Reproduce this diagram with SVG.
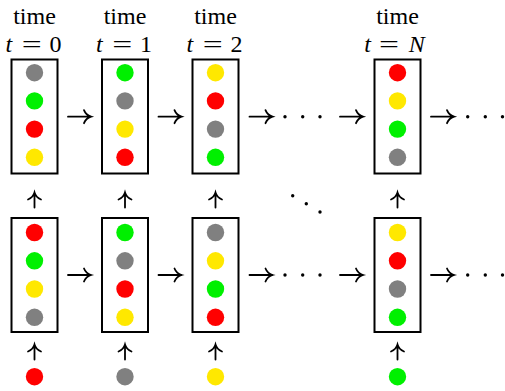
<svg xmlns="http://www.w3.org/2000/svg" width="505" height="391" viewBox="0 0 505 391">
<defs>
<style>
.box{fill:none;stroke:#000;stroke-width:2}
.g{fill:#808080}.gr{fill:#00f000}.r{fill:#ff0000}.y{fill:#ffe800}
.arr{fill:none;stroke:#000;stroke-width:1.8;stroke-linecap:round}
.dot{fill:#000}
</style>
<path id="ra" class="arr" d="M0,0 H23 M16,-6.5 Q18,-1.5 23,0 Q18,1.5 16,6.5"/>
<path id="ua" class="arr" d="M0,0 V-15 M-6.5,-8 Q-1.5,-10 0,-15 Q1.5,-10 6.5,-8"/>
</defs>
<rect width="505" height="391" fill="#fff"/>

<g id="labels" font-family="'Liberation Serif', 'Times New Roman', serif" font-size="24" fill="#000" text-anchor="middle">
<text x="34.5" y="24">time</text>
<text x="8.8" y="52" font-style="italic">t</text><text x="21.7" y="52" text-anchor="start" textLength="20" lengthAdjust="spacingAndGlyphs">=</text><text x="55.5" y="52">0</text>
<text x="125" y="24">time</text>
<text x="99.3" y="52" font-style="italic">t</text><text x="112.2" y="52" text-anchor="start" textLength="20" lengthAdjust="spacingAndGlyphs">=</text><text x="146" y="52">1</text>
<text x="215.5" y="24">time</text>
<text x="189.8" y="52" font-style="italic">t</text><text x="202.7" y="52" text-anchor="start" textLength="20" lengthAdjust="spacingAndGlyphs">=</text><text x="236.5" y="52">2</text>
<text x="397.5" y="24">time</text>
<text x="367.5" y="52" font-style="italic">t</text><text x="379" y="52" text-anchor="start" textLength="20" lengthAdjust="spacingAndGlyphs">=</text><text x="416.7" y="52" font-style="italic">N</text>
</g>

<g id="top0"><rect class="box" x="11.5" y="59.5" width="46" height="114"/>
<circle class="g" cx="34.5" cy="72.7" r="8.7"/><circle class="gr" cx="34.5" cy="100.9" r="8.7"/><circle class="r" cx="34.5" cy="129.1" r="8.7"/><circle class="y" cx="34.5" cy="157.3" r="8.7"/></g>
<g id="top1"><rect class="box" x="102" y="59.5" width="46" height="114"/>
<circle class="gr" cx="125" cy="72.7" r="8.7"/><circle class="g" cx="125" cy="100.9" r="8.7"/><circle class="y" cx="125" cy="129.1" r="8.7"/><circle class="r" cx="125" cy="157.3" r="8.7"/></g>
<g id="top2"><rect class="box" x="192.5" y="59.5" width="46" height="114"/>
<circle class="y" cx="215.5" cy="72.7" r="8.7"/><circle class="r" cx="215.5" cy="100.9" r="8.7"/><circle class="g" cx="215.5" cy="129.1" r="8.7"/><circle class="gr" cx="215.5" cy="157.3" r="8.7"/></g>
<g id="topN"><rect class="box" x="374.5" y="59.5" width="46" height="114"/>
<circle class="r" cx="397.5" cy="72.7" r="8.7"/><circle class="y" cx="397.5" cy="100.9" r="8.7"/><circle class="gr" cx="397.5" cy="129.1" r="8.7"/><circle class="g" cx="397.5" cy="157.3" r="8.7"/></g>

<g id="bot0"><rect class="box" x="11.5" y="218" width="46" height="114"/>
<circle class="r" cx="34.5" cy="232.5" r="8.7"/><circle class="gr" cx="34.5" cy="260.8" r="8.7"/><circle class="y" cx="34.5" cy="289" r="8.7"/><circle class="g" cx="34.5" cy="317.3" r="8.7"/></g>
<g id="bot1"><rect class="box" x="102" y="218" width="46" height="114"/>
<circle class="gr" cx="125" cy="232.5" r="8.7"/><circle class="g" cx="125" cy="260.8" r="8.7"/><circle class="r" cx="125" cy="289" r="8.7"/><circle class="y" cx="125" cy="317.3" r="8.7"/></g>
<g id="bot2"><rect class="box" x="192.5" y="218" width="46" height="114"/>
<circle class="g" cx="215.5" cy="232.5" r="8.7"/><circle class="y" cx="215.5" cy="260.8" r="8.7"/><circle class="gr" cx="215.5" cy="289" r="8.7"/><circle class="r" cx="215.5" cy="317.3" r="8.7"/></g>
<g id="botN"><rect class="box" x="374.5" y="218" width="46" height="114"/>
<circle class="y" cx="397.5" cy="232.5" r="8.7"/><circle class="r" cx="397.5" cy="260.8" r="8.7"/><circle class="g" cx="397.5" cy="289" r="8.7"/><circle class="gr" cx="397.5" cy="317.3" r="8.7"/></g>

<g id="in0"><circle class="r" cx="34.5" cy="376.7" r="8.7"/></g>
<g id="in1"><circle class="g" cx="125" cy="376.7" r="8.7"/></g>
<g id="in2"><circle class="y" cx="215.5" cy="376.7" r="8.7"/></g>
<g id="inN"><circle class="gr" cx="397.5" cy="376.7" r="8.7"/></g>

<g id="connectors">
<use href="#ra" x="68" y="116.7"/><use href="#ra" x="158.5" y="116.7"/><use href="#ra" x="249.5" y="116.7"/><use href="#ra" x="340" y="116.7"/><use href="#ra" x="431" y="116.7"/>
<use href="#ra" x="68" y="275"/><use href="#ra" x="158.5" y="275"/><use href="#ra" x="249.5" y="275"/><use href="#ra" x="340" y="275"/><use href="#ra" x="431" y="275"/>
<use href="#ua" x="34.5" y="207.5"/><use href="#ua" x="125" y="207.5"/><use href="#ua" x="215.5" y="207.5"/><use href="#ua" x="397.5" y="207.5"/>
<use href="#ua" x="34.5" y="359.5"/><use href="#ua" x="125" y="359.5"/><use href="#ua" x="215.5" y="359.5"/><use href="#ua" x="397.5" y="359.5"/>
</g>

<g id="ellipses">
<circle class="dot" cx="285" cy="116.7" r="1.7"/><circle class="dot" cx="302.7" cy="116.7" r="1.7"/><circle class="dot" cx="320" cy="116.7" r="1.7"/>
<circle class="dot" cx="467.7" cy="116.7" r="1.7"/><circle class="dot" cx="485.3" cy="116.7" r="1.7"/><circle class="dot" cx="502.5" cy="116.7" r="1.7"/>
<circle class="dot" cx="285" cy="275" r="1.7"/><circle class="dot" cx="302.7" cy="275" r="1.7"/><circle class="dot" cx="320" cy="275" r="1.7"/>
<circle class="dot" cx="467.7" cy="275" r="1.7"/><circle class="dot" cx="485.3" cy="275" r="1.7"/><circle class="dot" cx="502.5" cy="275" r="1.7"/>
<circle class="dot" cx="292.7" cy="195.7" r="1.7"/><circle class="dot" cx="306.3" cy="203.7" r="1.7"/><circle class="dot" cx="320" cy="212" r="1.7"/>
</g>
</svg>
